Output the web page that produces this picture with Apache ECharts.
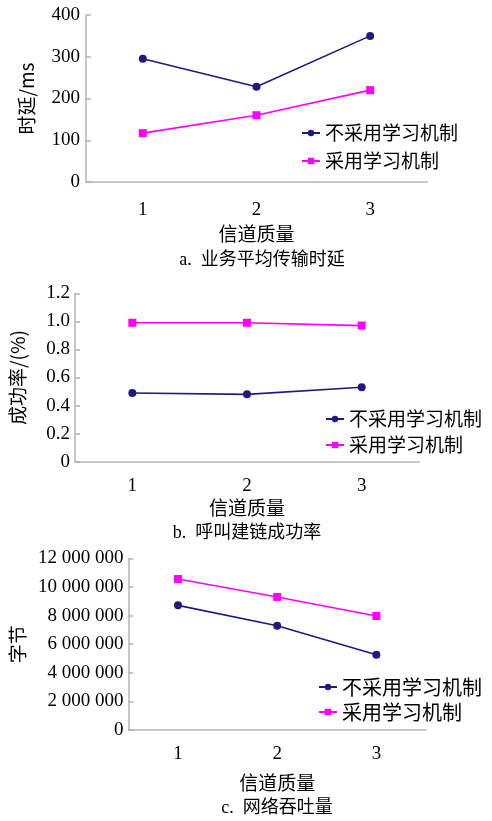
<!DOCTYPE html>
<html><head><meta charset="utf-8">
<script src="https://cdn.jsdelivr.net/npm/echarts@6/dist/echarts.min.js"></script>
<style>html,body{margin:0;padding:0;background:#fff}#c{width:492px;height:821px}</style>
</head><body><div id="c"></div>
<script>
const categories = ['1', '2', '3'];
const seriesNames = ['不采用学习机制', '采用学习机制'];
const delayNo = [295, 228, 350];
const delayYes = [117, 160, 220];
const successNo = [0.49, 0.48, 0.53];
const successYes = [0.99, 0.99, 0.97];
const throughputNo = [8710000, 7290000, 5260000];
const throughputYes = [10550000, 9300000, 7970000];
const yNames = ['时延/ms', '成功率/(%)', '字节'];
const xName = '信道质量';
const captions = ['a.  业务平均传输时延', 'b.  呼叫建链成功率', 'c.  网络吞吐量'];

const NUM = '"Liberation Serif","Noto Sans CJK SC"';
const CJK = '"Noto Sans CJK SC"';
const BLUE = '#1c1c80', PINK = '#ff00ff', AX = '#b4b4b4';

const grids = [
  {left: 86, top: 15, width: 341, height: 167},
  {left: 75, top: 293.3, width: 344, height: 168.4},
  {left: 127, top: 558.3, width: 299, height: 171.7}
];
const yCfg = [
  {min: 0, max: 400, interval: 100, fmt: v => String(v), gap: 50, margin: 6},
  {min: 0, max: 1.2, interval: 0.2, fmt: v => v === 0 ? '0' : v.toFixed(1), gap: 48, margin: 5},
  {min: 0, max: 12000000, interval: 2000000, fmt: v => String(v).replace(/\B(?=(\d{3})+(?!\d))/g, ' '), gap: 93, margin: 5}
];
const xNameGaps = [42, 37, 43];
const xLabelMargins = [19, 15, 15];

const xAxis = grids.map((g, i) => ({
  type: 'category', gridIndex: i, data: categories, boundaryGap: true,
  axisLine: {lineStyle: {color: AX, width: 1.5}},
  axisTick: {inside: true, length: 5, lineStyle: {color: AX, width: 1.5}},
  axisLabel: {fontFamily: NUM, fontSize: 19, color: '#000', margin: xLabelMargins[i]},
  name: xName, nameLocation: 'middle', nameGap: xNameGaps[i],
  nameTextStyle: {fontFamily: CJK, fontSize: 19, color: '#000'}
}));
const yAxis = grids.map((g, i) => ({
  type: 'value', gridIndex: i, min: yCfg[i].min, max: yCfg[i].max, interval: yCfg[i].interval,
  splitLine: {show: false},
  axisLine: {show: true, lineStyle: {color: AX, width: 1.5}},
  axisTick: {show: true, inside: true, length: 5, lineStyle: {color: AX, width: 1.5}},
  axisLabel: {fontFamily: NUM, fontSize: 19, color: '#000', margin: yCfg[i].margin, formatter: yCfg[i].fmt},
  name: yNames[i], nameLocation: 'middle', nameRotate: 90, nameGap: yCfg[i].gap,
  nameTextStyle: {fontFamily: CJK, fontSize: 19, color: '#000'}
}));
const dataSets = [[delayNo, delayYes], [successNo, successYes], [throughputNo, throughputYes]];
const series = [];
dataSets.forEach((pair, i) => {
  series.push({name: seriesNames[0], type: 'line', xAxisIndex: i, yAxisIndex: i, data: pair[0],
    symbol: 'circle', symbolSize: 8, lineStyle: {color: BLUE, width: 1.6}, itemStyle: {color: BLUE}, animation: false});
  series.push({name: seriesNames[1], type: 'line', xAxisIndex: i, yAxisIndex: i, data: pair[1],
    symbol: 'rect', symbolSize: 8, lineStyle: {color: PINK, width: 1.6}, itemStyle: {color: PINK}, animation: false});
});
const legendPos = [
  {left: 301, top: 119, lh: 28, fs: 19},
  {left: 325, top: 406, lh: 26, fs: 19},
  {left: 318, top: 674.5, lh: 25, fs: 20}
];
const legend = legendPos.map(p => ({
  data: seriesNames, orient: 'vertical', left: p.left, top: p.top, itemGap: 0,
  itemWidth: 18, itemHeight: 8, padding: 0,
  textStyle: {fontFamily: CJK, fontSize: p.fs, lineHeight: p.lh, color: '#000'}
}));
const capPos = [[262, 260], [247, 533], [277, 808]];
const graphic = captions.map((t, i) => ({
  type: 'text', x: capPos[i][0], y: capPos[i][1],
  style: {text: t, fontFamily: NUM, fontSize: 18, fill: '#000', textAlign: 'center', textVerticalAlign: 'middle'}
}));

const chart = echarts.init(document.getElementById('c'));
chart.setOption({animation: false, grid: grids, xAxis, yAxis, series, legend, graphic});
</script></body></html>
